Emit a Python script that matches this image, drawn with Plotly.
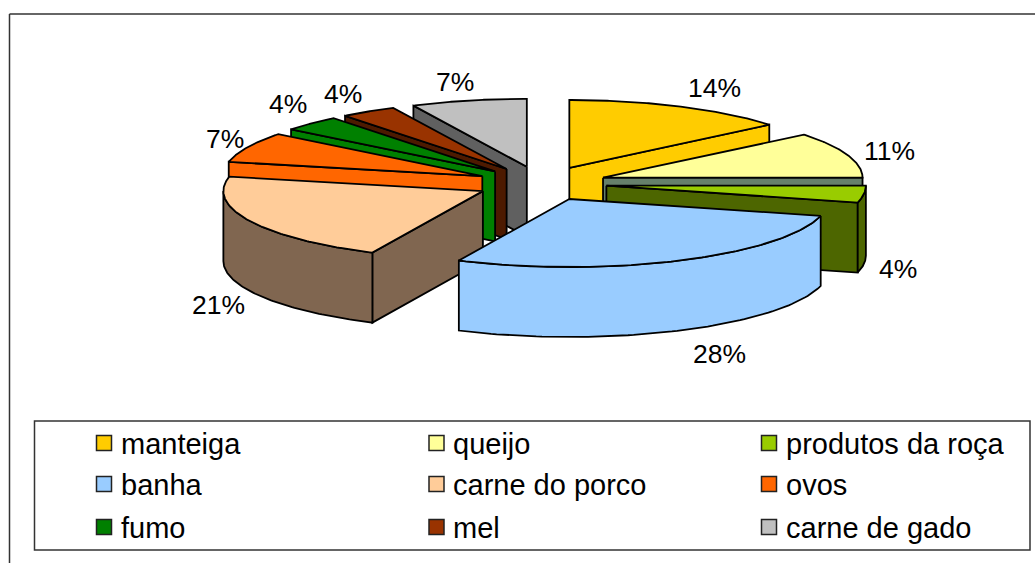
import numpy as np
import plotly.graph_objects as go

categories = ["manteiga", "queijo", "produtos da roça", "banha", "carne do porco",
              "ovos", "fumo", "mel", "carne de gado"]
values = [14, 11, 4, 28, 21.4, 7.2, 3.7, 3.5, 7.2]
top_colors = ["#FFCC00", "#FFFF99", "#99CC00", "#99CCFF", "#FFCC99",
              "#FF6600", "#008000", "#993300", "#C0C0C0"]
wall_colors = ["#FFCC00", "#66806A", "#4D6600", "#99CCFF", "#806650",
               "#FF6600", "#008000", "#4D1A00", "#606060"]
paint_order = [8, 7, 6, 5, 4, 0, 1, 2, 3]

W, H = 1035, 563
CX, CY, RX, RY, DEPTH, EXPLODE = 541.5, 183.5, 259.5, 68.0, 70.0, 0.252
LINE = 1.8
FONT = "Liberation Sans, Arial, sans-serif"
FS_LABEL = 26.5
FS_LEGEND = 29

label_xy = [(714, 88), (889, 151), (898, 269), (719, 354), (218, 305),
            (225, 139), (288, 104), (343, 94), (455, 82)]
legend_cols = [(104, 119), (436.5, 451), (769, 784)]
legend_rows = [443, 484, 527]

total = sum(values)
edges = np.cumsum([0] + values) / total * 2 * np.pi


def ell(theta, ax, ay, dz=0.0):
    return ax + RX * np.sin(theta), ay - RY * np.cos(theta) + dz


def poly(xs, ys, color):
    return go.Scatter(x=list(xs), y=list(ys), mode="lines", fill="toself",
                      fillcolor=color, line=dict(color="black", width=LINE),
                      hoverinfo="skip", showlegend=False)


fig = go.Figure()
for i in paint_order:
    a0, a1 = edges[i], edges[i + 1]
    mid = (a0 + a1) / 2
    ax = CX + EXPLODE * RX * np.sin(mid)
    ay = CY - EXPLODE * RY * np.cos(mid)
    # radial wall facing the viewer
    edge = None
    if a0 > np.pi:
        edge = a0
    elif a1 <= np.pi:
        edge = a1
    if edge is not None:
        ex, ey = ell(edge, ax, ay)
        fig.add_trace(poly([ax, ex, ex, ax, ax], [ay, ey, ey + DEPTH, ay + DEPTH, ay], wall_colors[i]))
    # outer wall: the lower half of the rim
    lo, hi = max(a0, np.pi / 2), min(a1, 3 * np.pi / 2)
    if hi > lo:
        t = np.linspace(lo, hi, 80)
        x, y = ell(t, ax, ay)
        fig.add_trace(poly(np.r_[x, x[::-1], x[0]], np.r_[y, y[::-1] + DEPTH, y[0]], wall_colors[i]))
    # top face
    t = np.linspace(a0, a1, 120)
    x, y = ell(t, ax, ay)
    fig.add_trace(poly(np.r_[ax, x, ax], np.r_[ay, y, ay], top_colors[i]))

# legend swatches
lx, ly = [], []
for k in range(len(categories)):
    lx.append(legend_cols[k % 3][0])
    ly.append(legend_rows[k // 3])
fig.add_trace(go.Scatter(x=lx, y=ly, mode="markers", hoverinfo="skip", showlegend=False,
                         marker=dict(symbol="square", size=15, color=top_colors,
                                     line=dict(color="#222222", width=1.5))))

ann = []
for k, name in enumerate(categories):
    ann.append(dict(x=legend_cols[k % 3][1], y=legend_rows[k // 3] + 1, text=name, showarrow=False,
                    xanchor="left", yanchor="middle", xref="x", yref="y",
                    font=dict(family=FONT, size=FS_LEGEND, color="black")))
for (px, py), v in zip(label_xy, values):
    ann.append(dict(x=px, y=py, text=f"{round(v / total * 100)}%", showarrow=False,
                    xanchor="center", yanchor="middle", xref="x", yref="y",
                    font=dict(family=FONT, size=FS_LABEL, color="black")))

frame = dict(color="#333333", width=1.5)
shapes = [
    dict(type="line", x0=9.5, x1=9.5, y0=14, y1=H, xref="x", yref="y", line=frame, layer="below"),
    dict(type="line", x0=9.5, x1=W, y0=14, y1=14, xref="x", yref="y", line=frame, layer="below"),
    dict(type="rect", x0=34.5, x1=1030, y0=421, y1=550, xref="x", yref="y", line=frame,
         fillcolor="white", layer="below"),
]

fig.update_layout(width=W, height=H, margin=dict(l=0, r=0, t=0, b=0), autosize=False,
                  paper_bgcolor="white", plot_bgcolor="white", showlegend=False,
                  annotations=ann, shapes=shapes,
                  xaxis=dict(range=[0, W], visible=False, fixedrange=True),
                  yaxis=dict(range=[H, 0], visible=False, fixedrange=True))
fig.write_html("out.html", config=dict(displayModeBar=False),
               post_script="document.body.style.margin='0';document.body.style.overflow='hidden';")
